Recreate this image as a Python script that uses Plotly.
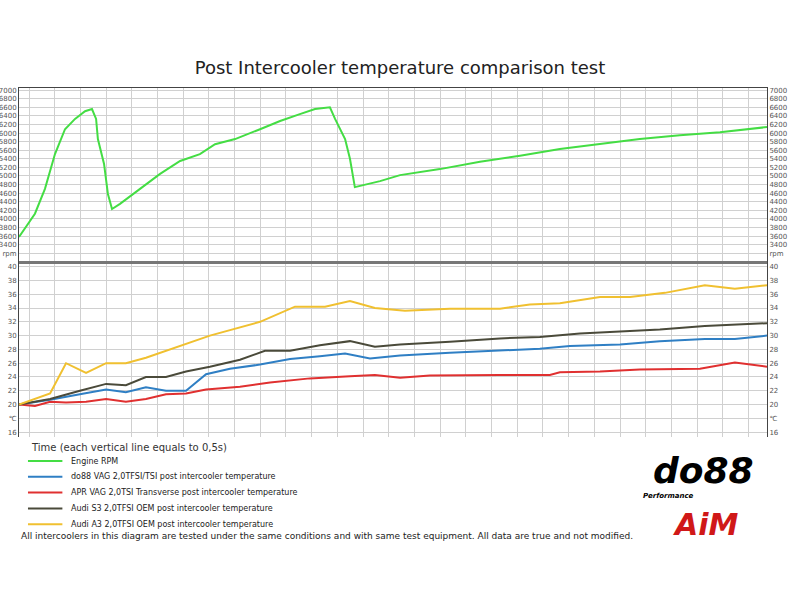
import plotly.graph_objects as go

# time axis in units of 0.5 s (one vertical grid line per unit)
rpm_t = [-0.39, 0.23, 0.62, 1.01, 1.40, 1.79, 2.18, 2.45, 2.61, 2.68, 2.92, 3.07, 3.23, 3.54,
         4.32, 5.10, 5.88, 6.65, 7.24, 8.02, 8.99, 9.77, 10.54, 11.13, 11.71, 11.91, 12.30,
         12.49, 12.68, 13.66, 14.44, 15.99, 17.55, 19.11, 20.66, 22.22, 23.77, 25.33, 26.89, 28.72]
rpm = [3580, 4120, 4700, 5510, 6090, 6330, 6510, 6560, 6330, 5860, 5280, 4580, 4230, 4350,
       4700, 5050, 5350, 5510, 5740, 5860, 6090, 6280, 6440, 6560, 6600, 6330, 5860,
       5400, 4740, 4880, 5020, 5160, 5330, 5470, 5630, 5740, 5860, 5950, 6020, 6140]

do88_t = [-0.39, 0.82, 1.98, 3.0, 3.77, 4.55, 5.33, 6.11, 6.89, 7.82, 8.99, 10.16, 11.32,
          12.30, 13.27, 14.44, 16.38, 18.33, 19.88, 21.05, 23.0, 24.55, 26.30, 27.47, 28.72]
do88 = [20, 20.7, 21.5, 22.2, 21.8, 22.5, 22.0, 22.0, 24.4, 25.2, 25.8, 26.6, 27.0,
        27.4, 26.7, 27.1, 27.5, 27.8, 28.1, 28.5, 28.7, 29.2, 29.5, 29.5, 30.0]

apr_t = [-0.39, 0.23, 0.82, 1.44, 2.22, 3.0, 3.77, 4.55, 5.33, 6.11, 6.89, 8.21, 9.38,
         10.93, 12.49, 13.46, 14.44, 15.60, 18.33, 20.27, 20.66, 22.22, 23.77, 24.94,
         26.11, 27.47, 28.72]
apr = [20, 19.8, 20.4, 20.3, 20.4, 20.8, 20.4, 20.8, 21.5, 21.6, 22.2, 22.6, 23.2,
       23.8, 24.1, 24.3, 23.9, 24.2, 24.3, 24.3, 24.7, 24.8, 25.1, 25.2,
       25.2, 26.1, 25.5]

s3_t = [-0.39, 0.82, 1.98, 3.0, 3.77, 4.55, 5.33, 6.11, 7.04, 8.21, 9.18, 10.16, 11.32,
        12.49, 13.46, 14.44, 16.38, 18.33, 19.88, 21.44, 23.0, 24.55, 26.30, 27.47, 28.72]
s3 = [20, 20.8, 22.0, 23.0, 22.8, 24.0, 24.0, 24.8, 25.5, 26.5, 27.8, 27.8, 28.6,
      29.2, 28.4, 28.7, 29.1, 29.6, 29.8, 30.3, 30.6, 30.9, 31.4, 31.6, 31.8]

a3_t = [-0.39, 0.82, 1.44, 2.22, 3.0, 3.77, 4.55, 5.49, 7.04, 8.99, 10.35, 11.52, 12.49,
        13.46, 14.63, 16.38, 18.33, 19.49, 20.66, 22.22, 23.39, 24.75, 26.30, 27.47, 28.72]
a3 = [20, 21.6, 26.0, 24.6, 26.0, 26.0, 26.8, 28.0, 30.0, 32.0, 34.2, 34.2, 35.0,
      34.0, 33.6, 33.9, 33.9, 34.5, 34.7, 35.6, 35.6, 36.2, 37.3, 36.8, 37.3]

rpm_ticks = list(range(3200, 7001, 200))
rpm_labels = [str(v) for v in rpm_ticks]
rpm_labels[0] = "rpm"
temp_ticks = list(range(16, 41, 2))
temp_labels = [str(v) for v in temp_ticks]
temp_labels[1] = "\u2103"

fig = go.Figure()
fig.add_trace(go.Scatter(x=rpm_t, y=rpm, name="Engine RPM", mode="lines",
                         line=dict(color="#44dd44", width=2), yaxis="y"))
series = [
    ("do88 VAG 2,0TFSI/TSI post intercooler temperature", do88_t, do88, "#2f7fc4"),
    ("APR VAG 2,0TSI Transverse post intercooler temperature", apr_t, apr, "#e03030"),
    ("Audi S3 2,0TFSI OEM post intercooler temperature", s3_t, s3, "#4a4a3a"),
    ("Audi A3 2,0TFSI OEM post intercooler temperature", a3_t, a3, "#f0c030"),
]
for name, t, v, c in series:
    fig.add_trace(go.Scatter(x=t, y=v, name=name, mode="lines",
                             line=dict(color=c, width=2), yaxis="y2"))

T, B = 88, 163
H = 600 - T - B


def py(pix):
    # page pixel row -> paper y
    return (600 - B - pix) / H


grid = "#d0d0d0"
tickfont = dict(size=7, color="#555")
axis_common = dict(tickfont=tickfont, zeroline=False, showline=True, linecolor="#444",
                   automargin=False)
fig.update_layout(
    width=800, height=600,
    margin=dict(l=19, r=33, t=T, b=B, autoexpand=False),
    paper_bgcolor="white", plot_bgcolor="white",
    font=dict(family="DejaVu Sans", color="#222"),
    showlegend=False,
    title=dict(text="Post Intercooler temperature comparison test", x=0.5, y=1 - 68 / 600,
               xanchor="center", yanchor="middle", font=dict(size=18, color="#222")),
    xaxis=dict(range=[-0.39, 28.72], tick0=0, dtick=1, showticklabels=False,
               showgrid=True, gridcolor=grid, zeroline=False, automargin=False,
               showline=True, linecolor="#444", mirror=True,
               ticks="outside", ticklen=3, tickcolor="#666"),
    yaxis=dict(domain=[0.502, 1], range=[3000, 7050], tickvals=rpm_ticks, ticktext=rpm_labels,
               showgrid=True, gridcolor=grid, **axis_common),
    yaxis3=dict(overlaying="y", side="right", range=[3000, 7050], tickvals=rpm_ticks,
                ticktext=rpm_labels, showgrid=False, **axis_common),
    yaxis2=dict(domain=[0, 0.498], range=[15.3, 40.5], tickvals=temp_ticks, ticktext=temp_labels,
                showgrid=True, gridcolor=grid, **axis_common),
    yaxis4=dict(overlaying="y2", side="right", range=[15.3, 40.5], tickvals=temp_ticks,
                ticktext=temp_labels, showgrid=False, **axis_common),
)
# dummy traces so the right-hand axes are drawn
fig.add_trace(go.Scatter(x=[None], y=[None], yaxis="y3", showlegend=False, hoverinfo="skip"))
fig.add_trace(go.Scatter(x=[None], y=[None], yaxis="y4", showlegend=False, hoverinfo="skip"))

fig.add_shape(type="line", xref="paper", yref="paper", x0=0, x1=1, y0=0.5, y1=0.5,
              line=dict(color="#777", width=3))

# hand-built legend, rows ~16 px apart
legend_names = ["Engine RPM"] + [s[0] for s in series]
legend_colors = ["#44dd44"] + [s[3] for s in series]
for i, (name, c) in enumerate(zip(legend_names, legend_colors)):
    yy = py(461 + i * 15.8)
    fig.add_shape(type="line", xref="paper", yref="paper", x0=0.012, x1=0.058,
                  y0=yy, y1=yy, line=dict(color=c, width=2))
    fig.add_annotation(text=name, xref="paper", yref="paper", x=0.067, y=yy,
                       xanchor="left", yanchor="middle", showarrow=False,
                       font=dict(size=8, color="#222"))

fig.add_annotation(text="Time (each vertical line equals to 0,5s)", xref="paper", yref="paper",
                   x=0.013, y=py(447), xanchor="left", yanchor="middle", showarrow=False,
                   font=dict(size=10, color="#333"))
fig.add_annotation(text="All intercoolers in this diagram are tested under the same conditions "
                        "and with same test equipment. All data are true and not modified.",
                   xref="paper", yref="paper", x=0.0, y=py(536), xanchor="left",
                   yanchor="middle", showarrow=False, font=dict(size=9, color="#222"))
fig.add_annotation(text="<b><i>do88</i></b>", xref="paper", yref="paper", x=0.985, y=py(470),
                   xanchor="right", yanchor="middle", showarrow=False,
                   font=dict(size=36, color="black", family="DejaVu Sans"))
fig.add_annotation(text="<b><i>Performance</i></b>", xref="paper", yref="paper", x=0.905,
                   y=py(496), xanchor="right", yanchor="middle", showarrow=False,
                   font=dict(size=7, color="black"))
fig.add_annotation(text="<b><i>AiM</i></b>", xref="paper", yref="paper", x=0.965, y=py(524),
                   xanchor="right", yanchor="middle", showarrow=False,
                   font=dict(size=30, color="#d01818", family="DejaVu Sans"))

# drop the browser's default body margin so figure pixels line up with the page
fig.write_html("out.html", config={"displayModeBar": False},
               post_script="document.body.style.margin='0';")
